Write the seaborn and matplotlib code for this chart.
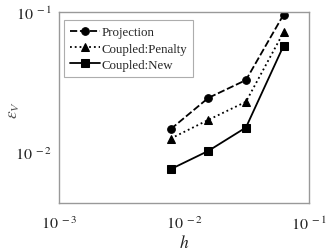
import math
import matplotlib
matplotlib.use("Agg")
import matplotlib.pyplot as plt
import matplotlib.ticker as mticker
import pandas as pd
import seaborn as sns

h = [1/128, 1/64, 1/32, 1/16]
projection = [0.0147, 0.0245, 0.0328, 0.0957]
penalty = [0.0126, 0.0171, 0.0230, 0.0717]
new = [0.00764, 0.0103, 0.0151, 0.0575]

labels = ["Projection", "Coupled:Penalty", "Coupled:New"]
series = [projection, penalty, new]
styles = [(0, (4, 1.5)), ":", "-"]
markers = ["o", "^", "s"]

sns.set_style("white")
plt.rcParams["font.family"] = ["Liberation Serif", "DejaVu Serif"]
plt.rcParams["mathtext.fontset"] = "stix"

fig = plt.figure(figsize=(3.32, 2.53), dpi=100)
ax = fig.add_axes([0.178, 0.194, 0.753, 0.755])

for lab, vals, ls, mk in zip(labels, series, styles, markers):
    df = pd.DataFrame({"h": h, "e": vals})
    sns.lineplot(data=df, x="h", y="e", ax=ax, color="black", linestyle=ls,
                 marker=mk, markersize=5.5, markeredgecolor="black",
                 linewidth=1.3, label=lab)

ax.set_xscale("log")
ax.set_yscale("log")
ax.set_xlim(1e-3, 1e-1)
ax.set_ylim(0.0044, 0.1)
ax.xaxis.set_major_locator(mticker.FixedLocator([1e-3, 1e-2, 1e-1]))
ax.yaxis.set_major_locator(mticker.FixedLocator([1e-2, 1e-1]))
ax.xaxis.set_minor_locator(mticker.NullLocator())
ax.yaxis.set_minor_locator(mticker.NullLocator())
fmt = mticker.FuncFormatter(lambda v, p: r"$10^{\ %d}$" % round(math.log10(v)))
ax.xaxis.set_major_formatter(fmt)
ax.yaxis.set_major_formatter(fmt)
ax.tick_params(length=0, labelsize=11.5, colors="#222222")
ax.tick_params(axis="x", pad=9)
ax.tick_params(axis="y", pad=5)

for s in ax.spines.values():
    s.set_color("#999999")
    s.set_linewidth(1.0)

ax.set_xlabel(r"$h$", fontsize=12.5, color="#222222")
ax.set_ylabel(r"$\epsilon_V$", fontsize=12.5, color="#555555")
ax.xaxis.set_label_coords(0.5, -0.165)
ax.yaxis.set_label_coords(-0.15, 0.49)

leg = ax.legend(loc="upper left", bbox_to_anchor=(0.02, 0.955), fontsize=9.3,
                frameon=True, fancybox=False, borderpad=0.45, labelspacing=0.32,
                handlelength=2.3, handletextpad=0.15, borderaxespad=0.0)
leg.get_frame().set_edgecolor("#999999")
leg.get_frame().set_linewidth(0.8)

fig.savefig("out.png", dpi=100)
